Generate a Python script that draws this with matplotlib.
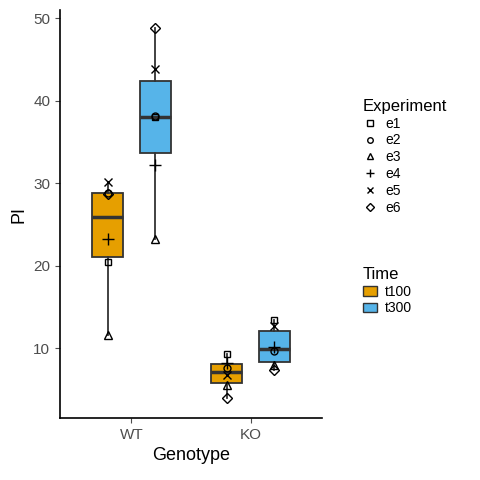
import numpy as np
import matplotlib.pyplot as plt
from matplotlib.lines import Line2D
from matplotlib.patches import Patch

genotypes = ["WT", "KO"]
times = ["t100", "t300"]
experiments = ["e1", "e2", "e3", "e4", "e5", "e6"]
# PI per experiment, for each (genotype, time)
pi = {
    ("WT", "t100"): [20.4, 28.8, 11.6, 23.2, 30.1, 28.7],
    ("WT", "t300"): [38.0, 38.1, 23.2, 32.2, 43.9, 48.8],
    ("KO", "t100"): [9.3, 7.6, 5.5, 8.2, 6.7, 3.9],
    ("KO", "t300"): [13.4, 9.6, 7.9, 10.1, 12.7, 7.3],
}
colors = {"t100": "#E69F00", "t300": "#56B4E9"}
markers = ["s", "o", "^", "+", "x", "D"]
msizes = [5, 5, 6, 8, 6, 5]

plt.rcParams['font.family'] = ['Liberation Sans', 'DejaVu Sans']
fig = plt.figure(figsize=(4.8, 4.8), dpi=100)
ax = fig.add_axes([0.125, 0.129, 0.546, 0.85])

for gi, g in enumerate(genotypes):
    for ti, t in enumerate(times):
        x = gi + 1 + (ti - 0.5) * 0.4
        vals = pi[(g, t)]
        ax.boxplot([vals], positions=[x], widths=0.26, patch_artist=True,
                   showfliers=False, showcaps=False,
                   boxprops=dict(facecolor=colors[t], edgecolor="#333333", linewidth=1.3),
                   medianprops=dict(color="#333333", linewidth=2.5),
                   whiskerprops=dict(color="#333333", linewidth=1.3))
        for v, m, s in zip(vals, markers, msizes):
            ax.plot(x, v, marker=m, ms=s, mfc="none", mec="black", mew=1, ls="none", zorder=5)

ax.set_xlim(0.4, 2.6)
ax.set_ylim(1.5, 51)
ax.set_xticks([1, 2])
ax.set_xticklabels(genotypes)
ax.set_yticks([10, 20, 30, 40, 50])
ax.tick_params(labelsize=11, colors="#4d4d4d", labelcolor="#4d4d4d")
for sp in ["top", "right"]:
    ax.spines[sp].set_visible(False)
for sp in ["left", "bottom"]:
    ax.spines[sp].set_linewidth(1.2)
ax.set_xlabel("Genotype", fontsize=13)
ax.set_ylabel("PI", fontsize=13)

h1 = [Line2D([], [], marker=m, ms=s * 0.8, mfc="none", mec="black", ls="none")
      for m, s in zip(markers, msizes)]
leg1 = fig.legend(h1, experiments, title="Experiment", loc="upper left",
                  bbox_to_anchor=(0.73, 0.82), frameon=False, fontsize=10,
                  title_fontsize=12, handlelength=1, handletextpad=0.6,
                  labelspacing=0.2, alignment="left")
h2 = [Patch(facecolor=colors[t], edgecolor="#333333") for t in times]
fig.legend(h2, times, title="Time", loc="upper left",
           bbox_to_anchor=(0.73, 0.47), frameon=False, fontsize=10,
           title_fontsize=12, handlelength=1, handletextpad=0.6,
           labelspacing=0.2, alignment="left")

fig.savefig("out.png")
